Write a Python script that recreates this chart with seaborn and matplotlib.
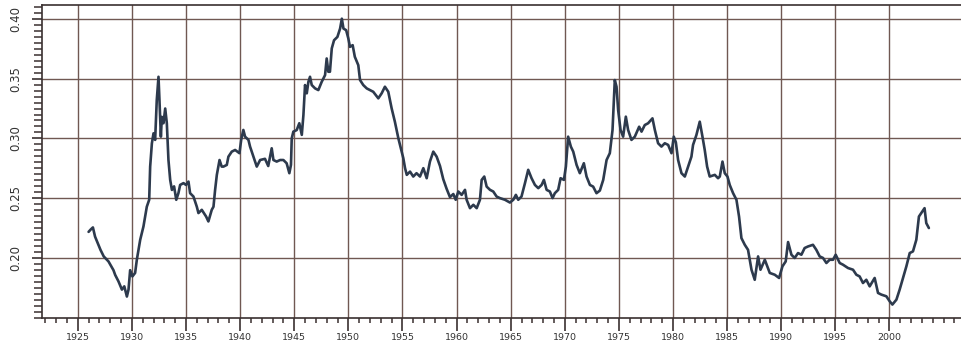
import matplotlib
matplotlib.use("Agg")
import matplotlib.pyplot as plt
from matplotlib.ticker import MultipleLocator, FormatStrFormatter
from matplotlib import font_manager
import seaborn as sns
import pandas as pd

# Ratio series, sampled roughly every few months
years = [
    1926.0, 1926.2, 1926.4, 1926.6, 1927.1, 1927.4, 1927.84, 1928.3, 1928.46, 1928.76,
    1929.08, 1929.3, 1929.54, 1929.69, 1929.84, 1930.05, 1930.3, 1930.46, 1930.77, 1931.07,
    1931.23, 1931.38, 1931.6, 1931.69, 1931.85, 1932.0, 1932.15, 1932.3, 1932.46, 1932.55,
    1932.68, 1932.77, 1932.92, 1933.08, 1933.23, 1933.38, 1933.54, 1933.7, 1933.9, 1934.1,
    1934.3, 1934.46, 1934.77, 1935.0, 1935.23, 1935.38, 1935.69, 1936.0, 1936.15, 1936.46,
    1936.86, 1937.07, 1937.38, 1937.54, 1937.69, 1937.85, 1938.1, 1938.3, 1938.46, 1938.77,
    1938.92, 1939.23, 1939.54, 1939.94, 1940.1, 1940.3, 1940.46, 1940.77, 1940.92, 1941.23,
    1941.54, 1941.85, 1942.3, 1942.6, 1942.92, 1943.08, 1943.38, 1943.7, 1944.0, 1944.3,
    1944.55, 1944.7, 1944.77, 1944.92, 1945.23, 1945.47, 1945.7, 1945.85, 1946.0, 1946.16,
    1946.31, 1946.46, 1946.62, 1946.93, 1947.23, 1947.54, 1947.85, 1948.0, 1948.15, 1948.3,
    1948.47, 1948.68, 1948.99, 1949.24, 1949.4, 1949.55, 1949.8, 1950.0, 1950.15, 1950.4,
    1950.6, 1950.92, 1951.08, 1951.38, 1951.7, 1952.0, 1952.3, 1952.77, 1953.08, 1953.38,
    1953.69, 1954.0, 1954.3, 1954.62, 1954.93, 1955.08, 1955.24, 1955.4, 1955.7, 1956.0,
    1956.3, 1956.62, 1956.93, 1957.24, 1957.54, 1957.85, 1958.16, 1958.47, 1958.77, 1959.08,
    1959.39, 1959.7, 1959.92, 1960.16, 1960.47, 1960.78, 1960.93, 1961.24, 1961.55, 1961.86,
    1962.16, 1962.32, 1962.56, 1962.78, 1963.09, 1963.39, 1963.7, 1964.0, 1964.47, 1964.93,
    1965.24, 1965.48, 1965.7, 1966.0, 1966.32, 1966.62, 1966.93, 1967.24, 1967.55, 1967.86,
    1968.07, 1968.32, 1968.62, 1968.87, 1969.08, 1969.39, 1969.61, 1969.92, 1970.1, 1970.31,
    1970.56, 1970.78, 1971.09, 1971.39, 1971.76, 1972.01, 1972.32, 1972.62, 1972.93, 1973.24,
    1973.55, 1973.86, 1974.16, 1974.41, 1974.62, 1974.78, 1974.93, 1975.15, 1975.39, 1975.64,
    1975.85, 1976.16, 1976.47, 1976.87, 1977.09, 1977.39, 1977.7, 1978.1, 1978.32, 1978.62,
    1978.93, 1979.24, 1979.55, 1979.86, 1980.07, 1980.26, 1980.47, 1980.78, 1981.09, 1981.39,
    1981.7, 1981.85, 1982.16, 1982.47, 1982.72, 1982.93, 1983.15, 1983.39, 1983.86, 1984.16,
    1984.32, 1984.57, 1984.78, 1985.03, 1985.24, 1985.55, 1985.86, 1986.1, 1986.32, 1986.63,
    1986.93, 1987.25, 1987.55, 1987.86, 1988.08, 1988.48, 1988.94, 1989.4, 1989.8, 1990.11,
    1990.41, 1990.63, 1990.94, 1991.24, 1991.55, 1991.86, 1992.16, 1992.47, 1992.93, 1993.24,
    1993.55, 1993.86, 1994.17, 1994.47, 1994.78, 1995.03, 1995.4, 1995.7, 1996.17, 1996.63,
    1996.94, 1997.24, 1997.55, 1997.86, 1998.17, 1998.63, 1998.94, 1999.25, 1999.71, 2000.02,
    2000.27, 2000.64, 2000.94, 2001.25, 2001.56, 2001.87, 2002.17, 2002.48, 2002.72, 2003.03,
    2003.24, 2003.4, 2003.64,
]

values = [
    0.222, 0.224, 0.2257, 0.218, 0.207, 0.2015, 0.1973, 0.190, 0.186, 0.1807,
    0.1738, 0.1765, 0.168, 0.1738, 0.190, 0.1848, 0.1877, 0.1988, 0.2154, 0.2265,
    0.2348, 0.243, 0.2488, 0.2765, 0.296, 0.3043, 0.2988, 0.332, 0.3515, 0.332,
    0.3015, 0.318, 0.3127, 0.325, 0.3127, 0.282, 0.2654, 0.257, 0.26, 0.2488,
    0.2543, 0.2612, 0.2627, 0.2612, 0.264, 0.2543, 0.2515, 0.243, 0.2377, 0.2404,
    0.2348, 0.2307, 0.2404, 0.243, 0.257, 0.2696, 0.282, 0.2765, 0.2765, 0.2779,
    0.2848, 0.289, 0.2904, 0.2877, 0.2988, 0.3071, 0.3015, 0.2988, 0.2932, 0.2848,
    0.2765, 0.282, 0.283, 0.277, 0.2918, 0.282, 0.2807, 0.282, 0.282, 0.2793,
    0.271, 0.278, 0.300, 0.3057, 0.307, 0.3127, 0.303, 0.3196, 0.3446, 0.3377,
    0.3473, 0.3515, 0.3446, 0.3418, 0.3404, 0.3473, 0.3529, 0.3668, 0.3557, 0.3557,
    0.3752, 0.382, 0.3848, 0.3918, 0.400, 0.3918, 0.3904, 0.3835, 0.3765, 0.3779,
    0.3682, 0.3612, 0.3488, 0.3446, 0.3418, 0.3404, 0.339, 0.3335, 0.3377, 0.3432,
    0.339, 0.3252, 0.314, 0.3002, 0.289, 0.2835, 0.2752, 0.2696, 0.2723, 0.2682,
    0.271, 0.2682, 0.2752, 0.2668, 0.2807, 0.289, 0.2848, 0.277, 0.266, 0.258,
    0.251, 0.2536, 0.2488, 0.2557, 0.2529, 0.2571, 0.2488, 0.2418, 0.2446, 0.2418,
    0.2488, 0.2654, 0.2682, 0.2598, 0.2571, 0.2557, 0.2515, 0.2502, 0.2488, 0.2465,
    0.2488, 0.2529, 0.2488, 0.2515, 0.2627, 0.2738, 0.2668, 0.2612, 0.2585, 0.2612,
    0.2654, 0.2571, 0.2557, 0.2502, 0.2543, 0.2571, 0.2668, 0.2654, 0.2765, 0.3015,
    0.2932, 0.289, 0.2779, 0.271, 0.2793, 0.2682, 0.2612, 0.2598, 0.2543, 0.2565,
    0.2654, 0.282, 0.2877, 0.3071, 0.3488, 0.3432, 0.3237, 0.3071, 0.3015, 0.3182,
    0.3071, 0.2988, 0.3015, 0.3098, 0.3057, 0.3112, 0.3127, 0.3168, 0.3071, 0.296,
    0.2932, 0.296, 0.2946, 0.2877, 0.3015, 0.2968, 0.282, 0.271, 0.2682, 0.2765,
    0.2848, 0.2946, 0.3029, 0.314, 0.3015, 0.2904, 0.2765, 0.2682, 0.2696, 0.2668,
    0.2682, 0.2807, 0.271, 0.2682, 0.2612, 0.2543, 0.2488, 0.2348, 0.2168, 0.2112,
    0.207, 0.1904, 0.182, 0.2015, 0.1904, 0.1987, 0.1877, 0.1862, 0.1835, 0.1932,
    0.1973, 0.2135, 0.2029, 0.2002, 0.2043, 0.2029, 0.2085, 0.2098, 0.2112, 0.207,
    0.2015, 0.2002, 0.196, 0.1987, 0.1987, 0.2029, 0.196, 0.1946, 0.1918, 0.1904,
    0.1862, 0.1848, 0.1793, 0.182, 0.1765, 0.1835, 0.171, 0.1696, 0.1682, 0.164,
    0.1613, 0.1654, 0.1738, 0.1835, 0.1932, 0.2043, 0.2057, 0.2154, 0.2348, 0.239,
    0.2418, 0.2293, 0.2252,
]

ytick_values = [0.20, 0.25, 0.30, 0.35, 0.40]
xtick_years = list(range(1925, 2001, 5))

df = pd.DataFrame({"year": years, "value": values})

sns.set_style("ticks")
plt.rcParams["font.family"] = ["DejaVu Sans"]

# condensed face for the value axis, if one is available
installed = {f.name for f in font_manager.fontManager.ttflist}
narrow = "Liberation Sans Narrow" if "Liberation Sans Narrow" in installed else "DejaVu Sans"

GRID = "#705852"
LINE = "#2d3a4d"
AXIS = "#3a3030"

fig = plt.figure(figsize=(9.62, 3.45), dpi=100)
ax = fig.add_axes([0.0437, 0.078, 0.9563, 0.907])

ax.set_axisbelow(True)
ax.grid(True, which="major", color=GRID, linewidth=1.0)

sns.lineplot(data=df, x="year", y="value", ax=ax, color=LINE,
             linewidth=1.9, legend=False, zorder=3)

ax.set_xlim(1921.7, 2006.7)
ax.set_ylim(0.15, 0.4113)

ax.set_xticks(xtick_years)
ax.set_xticklabels([str(y) for y in xtick_years])
ax.xaxis.set_minor_locator(MultipleLocator(1))
ax.set_yticks(ytick_values)
ax.yaxis.set_major_formatter(FormatStrFormatter("%.2f"))
ax.yaxis.set_minor_locator(MultipleLocator(0.005))

ax.tick_params(axis="x", which="major", direction="out", length=9, width=1.2,
               color=AXIS, pad=2, labelsize=6.8, labelcolor="#333333")
ax.tick_params(axis="x", which="minor", direction="out", length=3.5, width=1.1,
               color=AXIS)
ax.tick_params(axis="y", which="major", direction="out", length=7, width=1.2,
               color=AXIS, pad=12, labelsize=8.5, labelcolor="#333333")
ax.tick_params(axis="y", which="minor", direction="out", length=5.5, width=1.1,
               color=AXIS)
for lab in ax.get_yticklabels():
    lab.set_rotation(90)
    lab.set_va("center")
    lab.set_ha("center")
    lab.set_family(narrow)

ax.set_xlabel("")
ax.set_ylabel("")

for side in ("left", "bottom", "top"):
    ax.spines[side].set_color(AXIS)
    ax.spines[side].set_linewidth(1.2)
ax.spines["right"].set_visible(False)

fig.savefig("out.png", dpi=100, facecolor="white")
